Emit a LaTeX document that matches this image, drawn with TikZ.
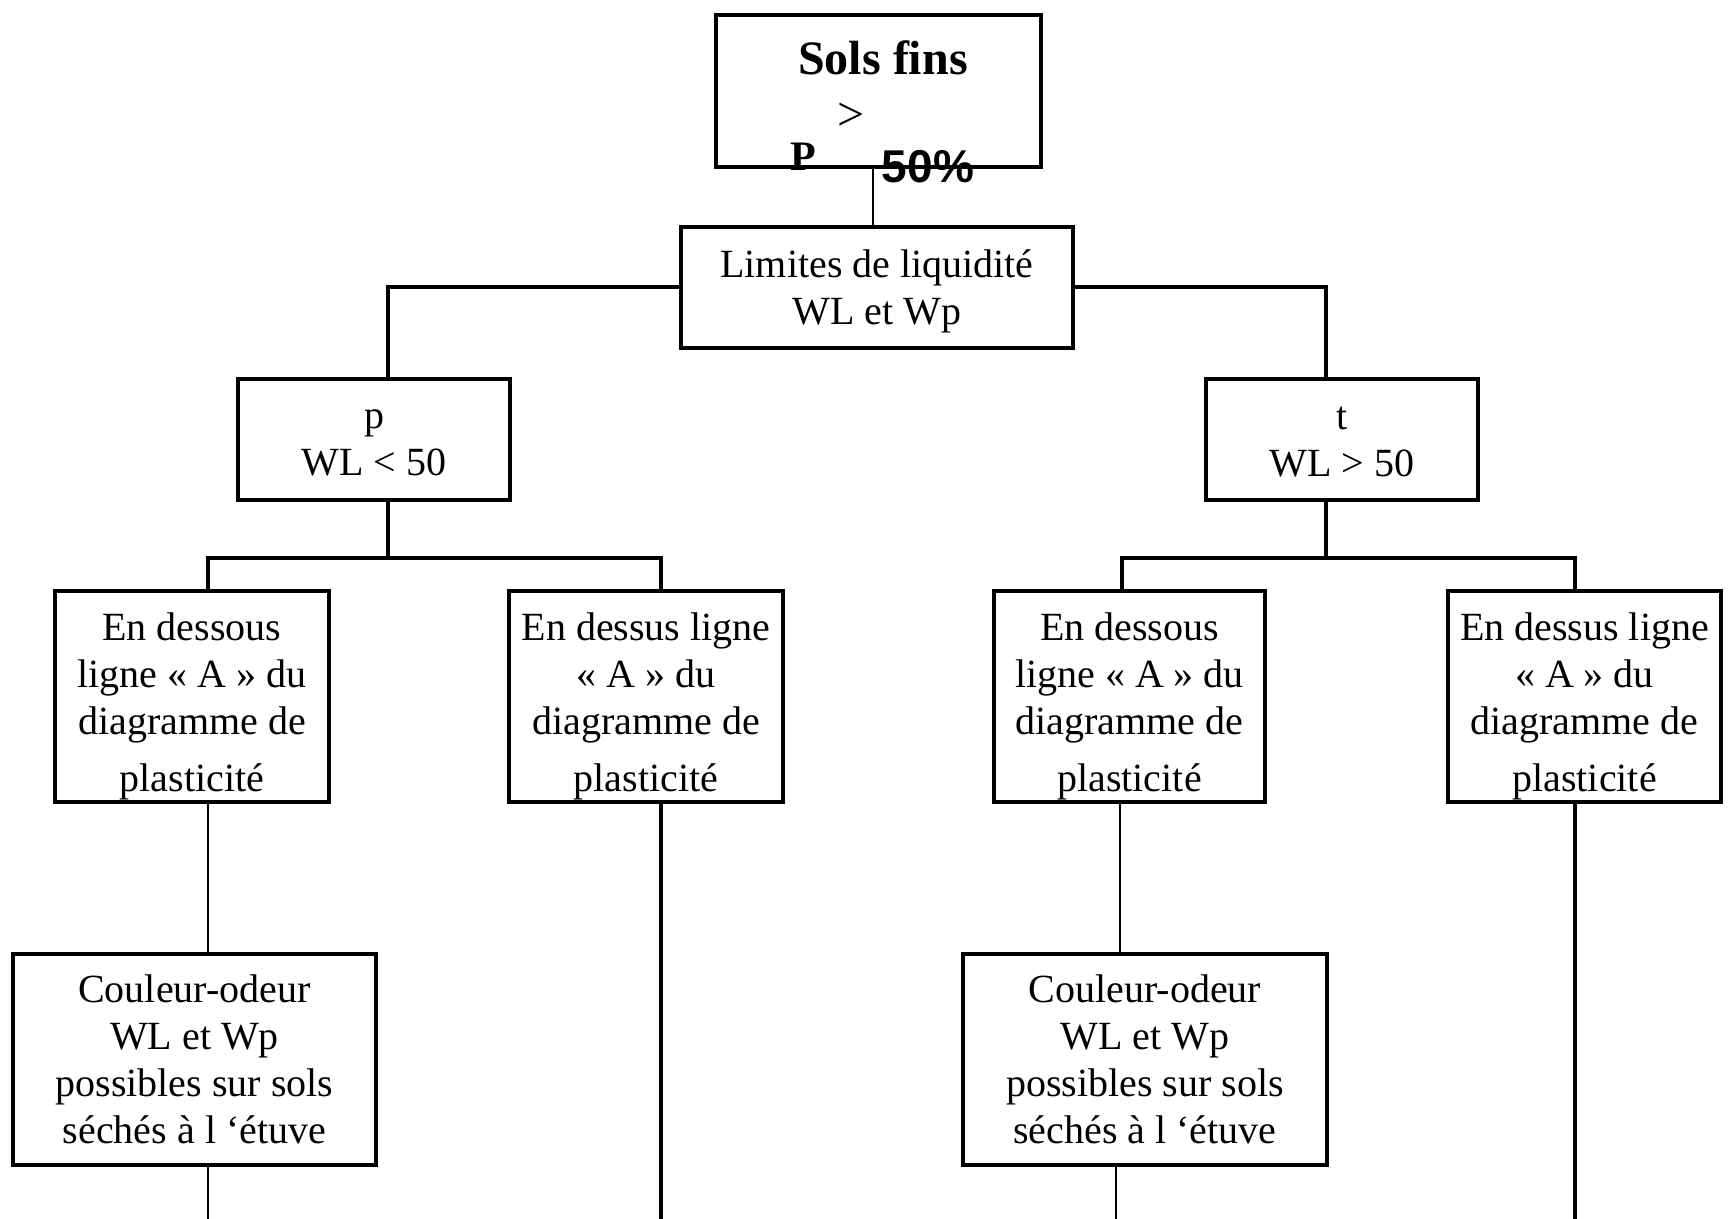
\documentclass[tikz,border=0pt]{standalone}
\usepackage{fontspec}
\setmainfont{Liberation Serif}
\newfontfamily\arialfont{Liberation Sans}
\newcommand\mystrut[1]{\rule{0pt}{#1}}
\begin{document}
\begin{tikzpicture}[x=0.5pt,y=-0.5pt,
  box/.style={draw,line width=1.7pt,inner sep=0pt,align=center,font=\fontsize{20}{23.5}\selectfont},
  smallbox/.style={box,minimum width=136pt,minimum height=60.5pt},
  midbox/.style={box,minimum width=137pt,minimum height=105.5pt},
  bigbox/.style={box,minimum width=182pt,minimum height=105.5pt},
  conn/.style={line width=1.6pt},
  thinconn/.style={line width=1.1pt}]
\useasboundingbox (0,0) rectangle (1733,1219);
\fill[white] (0,0) rectangle (1733,1219);

% top box
\node[box,minimum width=162.5pt,minimum height=76pt] (top) at (878.5,91) {};
\node[font=\fontsize{24}{28}\selectfont\bfseries,anchor=base,inner sep=0pt] (solsfins) at (883,75) {Sols fins};
\node[font=\fontsize{24}{28}\selectfont,anchor=base,inner sep=0pt] (gt) at (851,131) {>};
\node[font=\fontsize{21}{24}\selectfont\bfseries,anchor=base,inner sep=0pt] (pp) at (803.5,171) {P};
\node[font=\fontsize{23}{28}\selectfont\arialfont\bfseries,anchor=base,inner sep=0pt] (fifty) at (928,183) {50\%};

% level 1
\node[box,minimum width=196pt,minimum height=60.5pt] (lim) at (877,287.5) {\mystrut{18pt}Limites de liquidité\\WL et Wp};

% level 2
\node[smallbox] (p) at (374,439.5) {\mystrut{12.5pt}p\\WL < 50};
\node[smallbox] (t) at (1342,439.5) {\mystrut{14pt}t\\WL > 50};

% level 3
\node[midbox] (A) at (192,696.5) {\mystrut{23.6pt}En dessous\\ligne « A » du\\diagramme de\\[5pt]plasticité};
\node[midbox] (B) at (646,696.5) {\mystrut{23.6pt}En dessus ligne\\« A » du\\diagramme de\\[5pt]plasticité};
\node[midbox,minimum width=135.5pt] (C) at (1129.5,696.5) {\mystrut{23.6pt}En dessous\\ligne « A » du\\diagramme de\\[5pt]plasticité};
\node[midbox,minimum width=136.5pt] (D) at (1584.5,696.5) {\mystrut{23.6pt}En dessus ligne\\« A » du\\diagramme de\\[5pt]plasticité};

% level 4
\node[bigbox,minimum width=181.5pt] (E) at (194.5,1059.5) {Couleur-odeur\\WL et Wp\\possibles sur sols\\séchés à l ‘étuve};
\node[bigbox] (F) at (1145,1059.5) {Couleur-odeur\\WL et Wp\\possibles sur sols\\séchés à l ‘étuve};

% junction coordinates
\coordinate (tc) at (873,200);
\coordinate (lp) at (388,287);
\coordinate (rt) at (1326,287);
\coordinate (jl) at (388,558);
\coordinate (al) at (208,558);
\coordinate (bl) at (661,558);
\coordinate (jr) at (1326,558);
\coordinate (cl) at (1122,558);
\coordinate (dl) at (1575,558);
\coordinate (ea) at (208,880);
\coordinate (fc) at (1120,880);
\coordinate (eend) at (208,1219);
\coordinate (bend) at (661,1219);
\coordinate (fend) at (1116,1219);
\coordinate (dend) at (1575,1219);

% connectors
\draw[thinconn] (top.south -| tc) -- (lim.north -| tc);
\draw[conn] (lim.west |- lp) -- (lp) -- (p.north -| lp);
\draw[conn] (lim.east |- rt) -- (rt) -- (t.north -| rt);
\draw[conn] (p.south -| jl) -- (jl);
\draw[conn] (A.north -| al) -- (al) -- (bl) -- (B.north -| bl);
\draw[conn] (t.south -| jr) -- (jr);
\draw[conn] (C.north -| cl) -- (cl) -- (dl) -- (D.north -| dl);
\draw[thinconn] (A.south -| ea) -- (E.north -| ea);
\draw[thinconn] (C.south -| fc) -- (F.north -| fc);
\draw[thinconn] (E.south -| eend) -- (eend);
\draw[conn] (B.south -| bend) -- (bend);
\draw[thinconn] (F.south -| fend) -- (fend);
\draw[conn] (D.south -| dend) -- (dend);
\end{tikzpicture}
\end{document}
